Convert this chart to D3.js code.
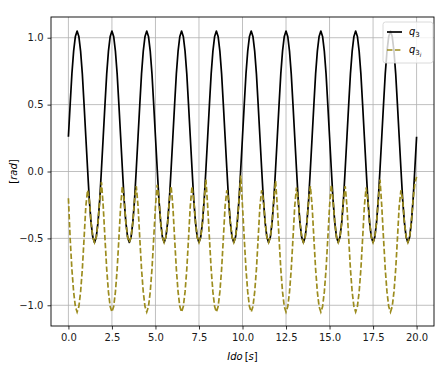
<!DOCTYPE html>
<html>
<head>
<meta charset="utf-8">
<script src="https://cdn.jsdelivr.net/npm/d3@7"></script>
<style>
  body { margin: 0; background: #fff; }
  text { font-family: "DejaVu Sans", sans-serif; }
</style>
</head>
<body>
<div id="chart"></div>
<script>
// q3 vs q3_i, sampled every 0.1 s from 0 to 20 s
const width = 444;
const height = 372;
const margin = { top: 17, right: 10, bottom: 46, left: 51 };

const xTicks = [0, 2.5, 5, 7.5, 10, 12.5, 15, 17.5, 20];
const yTicks = [-1, -0.5, 0, 0.5, 1];

// one row per 2 s period
const q3 = [
  0.26, 0.50, 0.73, 0.90, 1.01, 1.05, 1.01, 0.90, 0.73, 0.50, 0.26, 0.02, -0.21, -0.38, -0.49, -0.53, -0.49, -0.38, -0.21, 0.02,
  0.26, 0.50, 0.73, 0.90, 1.01, 1.05, 1.01, 0.90, 0.73, 0.50, 0.26, 0.02, -0.21, -0.38, -0.49, -0.53, -0.49, -0.38, -0.21, 0.02,
  0.26, 0.50, 0.73, 0.90, 1.01, 1.05, 1.01, 0.90, 0.73, 0.50, 0.26, 0.02, -0.21, -0.38, -0.49, -0.53, -0.49, -0.38, -0.21, 0.02,
  0.26, 0.50, 0.73, 0.90, 1.01, 1.05, 1.01, 0.90, 0.73, 0.50, 0.26, 0.02, -0.21, -0.38, -0.49, -0.53, -0.49, -0.38, -0.21, 0.02,
  0.26, 0.50, 0.73, 0.90, 1.01, 1.05, 1.01, 0.90, 0.73, 0.50, 0.26, 0.02, -0.21, -0.38, -0.49, -0.53, -0.49, -0.38, -0.21, 0.02,
  0.26, 0.50, 0.73, 0.90, 1.01, 1.05, 1.01, 0.90, 0.73, 0.50, 0.26, 0.02, -0.21, -0.38, -0.49, -0.53, -0.49, -0.38, -0.21, 0.02,
  0.26, 0.50, 0.73, 0.90, 1.01, 1.05, 1.01, 0.90, 0.73, 0.50, 0.26, 0.02, -0.21, -0.38, -0.49, -0.53, -0.49, -0.38, -0.21, 0.02,
  0.26, 0.50, 0.73, 0.90, 1.01, 1.05, 1.01, 0.90, 0.73, 0.50, 0.26, 0.02, -0.21, -0.38, -0.49, -0.53, -0.49, -0.38, -0.21, 0.02,
  0.26, 0.50, 0.73, 0.90, 1.01, 1.05, 1.01, 0.90, 0.73, 0.50, 0.26, 0.02, -0.21, -0.38, -0.49, -0.53, -0.49, -0.38, -0.21, 0.02,
  0.26, 0.50, 0.73, 0.90, 1.01, 1.05, 1.01, 0.90, 0.73, 0.50, 0.26, 0.02, -0.21, -0.38, -0.49, -0.53, -0.49, -0.38, -0.21, 0.02,
  0.26
];

const q3i = [
  -0.20, -0.50, -0.73, -0.90, -1.01, -1.05, -1.01, -0.90, -0.73, -0.50, -0.26, -0.14, -0.21, -0.38, -0.49, -0.53, -0.49, -0.38, -0.21, -0.08,
  -0.26, -0.50, -0.73, -0.90, -1.01, -1.05, -1.01, -0.90, -0.73, -0.50, -0.26, -0.11, -0.21, -0.38, -0.49, -0.53, -0.49, -0.38, -0.21, -0.11,
  -0.26, -0.50, -0.73, -0.90, -1.01, -1.05, -1.01, -0.90, -0.73, -0.50, -0.26, -0.10, -0.21, -0.38, -0.49, -0.53, -0.49, -0.38, -0.21, -0.11,
  -0.26, -0.50, -0.73, -0.90, -1.01, -1.05, -1.01, -0.90, -0.73, -0.50, -0.26, -0.11, -0.21, -0.38, -0.49, -0.53, -0.49, -0.38, -0.21, -0.06,
  -0.26, -0.50, -0.73, -0.90, -1.01, -1.05, -1.01, -0.90, -0.73, -0.50, -0.26, -0.14, -0.21, -0.38, -0.49, -0.53, -0.49, -0.38, -0.21, -0.03,
  -0.26, -0.50, -0.73, -0.90, -1.01, -1.05, -1.01, -0.90, -0.73, -0.50, -0.26, -0.14, -0.21, -0.38, -0.49, -0.53, -0.49, -0.38, -0.21, -0.07,
  -0.26, -0.50, -0.73, -0.90, -1.01, -1.05, -1.01, -0.90, -0.73, -0.50, -0.26, -0.12, -0.21, -0.38, -0.49, -0.53, -0.49, -0.38, -0.21, -0.11,
  -0.26, -0.50, -0.73, -0.90, -1.01, -1.05, -1.01, -0.90, -0.73, -0.50, -0.26, -0.10, -0.21, -0.38, -0.49, -0.53, -0.49, -0.38, -0.21, -0.11,
  -0.26, -0.50, -0.73, -0.90, -1.01, -1.05, -1.01, -0.90, -0.73, -0.50, -0.26, -0.12, -0.21, -0.38, -0.49, -0.53, -0.49, -0.38, -0.21, -0.06,
  -0.26, -0.50, -0.73, -0.90, -1.01, -1.05, -1.01, -0.90, -0.73, -0.50, -0.26, -0.14, -0.21, -0.38, -0.49, -0.53, -0.49, -0.38, -0.21, -0.09,
  -0.04
];

const dt = 0.1;
const time = q3.map((_, i) => +(i * dt).toFixed(1));

const q3Color = "#000000";
const q3iColor = "#9c8c1e";

const svg = d3.select("#chart")
  .append("svg")
  .attr("width", width)
  .attr("height", height);

const x = d3.scaleLinear()
  .domain([-1, 21])
  .range([margin.left, width - margin.right]);

const y = d3.scaleLinear()
  .domain([-1.155, 1.155])
  .range([height - margin.bottom, margin.top]);

const fmt = d => d3.format(".1f")(d).replace("-", "\u2212");

// grid
svg.append("g")
  .attr("class", "grid")
  .selectAll("line.gx")
  .data(xTicks)
  .join("line")
  .attr("x1", d => x(d)).attr("x2", d => x(d))
  .attr("y1", margin.top).attr("y2", height - margin.bottom)
  .attr("stroke", "#b0b0b0").attr("stroke-width", 0.8);

svg.select(".grid")
  .selectAll("line.gy")
  .data(yTicks)
  .join(enter => enter.append("line").attr("class", "gy"))
  .attr("x1", margin.left).attr("x2", width - margin.right)
  .attr("y1", d => y(d)).attr("y2", d => y(d))
  .attr("stroke", "#b0b0b0").attr("stroke-width", 0.8);

// axes
const xAxis = svg.append("g")
  .attr("transform", `translate(0,${height - margin.bottom})`)
  .call(d3.axisBottom(x).tickValues(xTicks).tickFormat(fmt).tickSize(3.5).tickPadding(4));

const yAxis = svg.append("g")
  .attr("transform", `translate(${margin.left},0)`)
  .call(d3.axisLeft(y).tickValues(yTicks).tickFormat(fmt).tickSize(3.5).tickPadding(4));

[xAxis, yAxis].forEach(a => {
  a.select(".domain").remove();
  a.selectAll(".tick line").attr("stroke", "#000").attr("stroke-width", 0.8);
  a.selectAll(".tick text")
    .attr("fill", "#1a1a1a")
    .style("font-size", "10px")
    .style("font-family", "DejaVu Sans");
});

// lines
const line = d3.line()
  .x((d, i) => x(time[i]))
  .y(d => y(d));

svg.append("path")
  .datum(q3)
  .attr("fill", "none")
  .attr("stroke", q3Color)
  .attr("stroke-width", 1.7)
  .attr("stroke-linejoin", "round")
  .attr("d", line);

svg.append("path")
  .datum(q3i)
  .attr("fill", "none")
  .attr("stroke", q3iColor)
  .attr("stroke-width", 1.7)
  .attr("stroke-dasharray", "5.5,2.4")
  .attr("d", line);

// frame
svg.append("rect")
  .attr("x", margin.left)
  .attr("y", margin.top)
  .attr("width", width - margin.left - margin.right)
  .attr("height", height - margin.top - margin.bottom)
  .attr("fill", "none")
  .attr("stroke", "#000")
  .attr("stroke-width", 0.9);

// axis labels
const xLabel = svg.append("text")
  .attr("x", (margin.left + width - margin.right) / 2)
  .attr("y", 360)
  .attr("text-anchor", "middle")
  .style("font-size", "10px");
xLabel.append("tspan").style("font-style", "italic").text("Ido");
xLabel.append("tspan").text("\u2009[");
xLabel.append("tspan").style("font-style", "italic").text("s");
xLabel.append("tspan").text("]");

const yLabel = svg.append("text")
  .attr("transform", `translate(17,${(margin.top + height - margin.bottom) / 2}) rotate(-90)`)
  .attr("text-anchor", "middle")
  .style("font-size", "10px");
yLabel.append("tspan").text("[");
yLabel.append("tspan").style("font-style", "italic").text("rad");
yLabel.append("tspan").text("]");

// legend
const legend = svg.append("g").attr("transform", "translate(383,22)");
legend.append("rect")
  .attr("width", 50).attr("height", 41)
  .attr("rx", 2.5)
  .attr("fill", "rgba(255,255,255,0.8)")
  .attr("stroke", "#d0d0d0")
  .attr("stroke-width", 0.8);

const entries = [
  { color: q3Color, dash: null, sub2: null, y: 10 },
  { color: q3iColor, dash: "5.5,2.4", sub2: "i", y: 28 }
];

entries.forEach(e => {
  legend.append("line")
    .attr("x1", 4).attr("x2", 19)
    .attr("y1", e.y).attr("y2", e.y)
    .attr("stroke", e.color)
    .attr("stroke-width", 1.7)
    .attr("stroke-dasharray", e.dash);
  const t = legend.append("text")
    .attr("x", 26).attr("y", e.y + 3)
    .style("font-size", "10px");
  t.append("tspan").style("font-style", "italic").text("q");
  t.append("tspan").attr("dy", 2).style("font-size", "7px").text("3");
  if (e.sub2) {
    t.append("tspan").attr("dy", 2).style("font-size", "5.5px").style("font-style", "italic").text(e.sub2);
  }
});
</script>
</body>
</html>
